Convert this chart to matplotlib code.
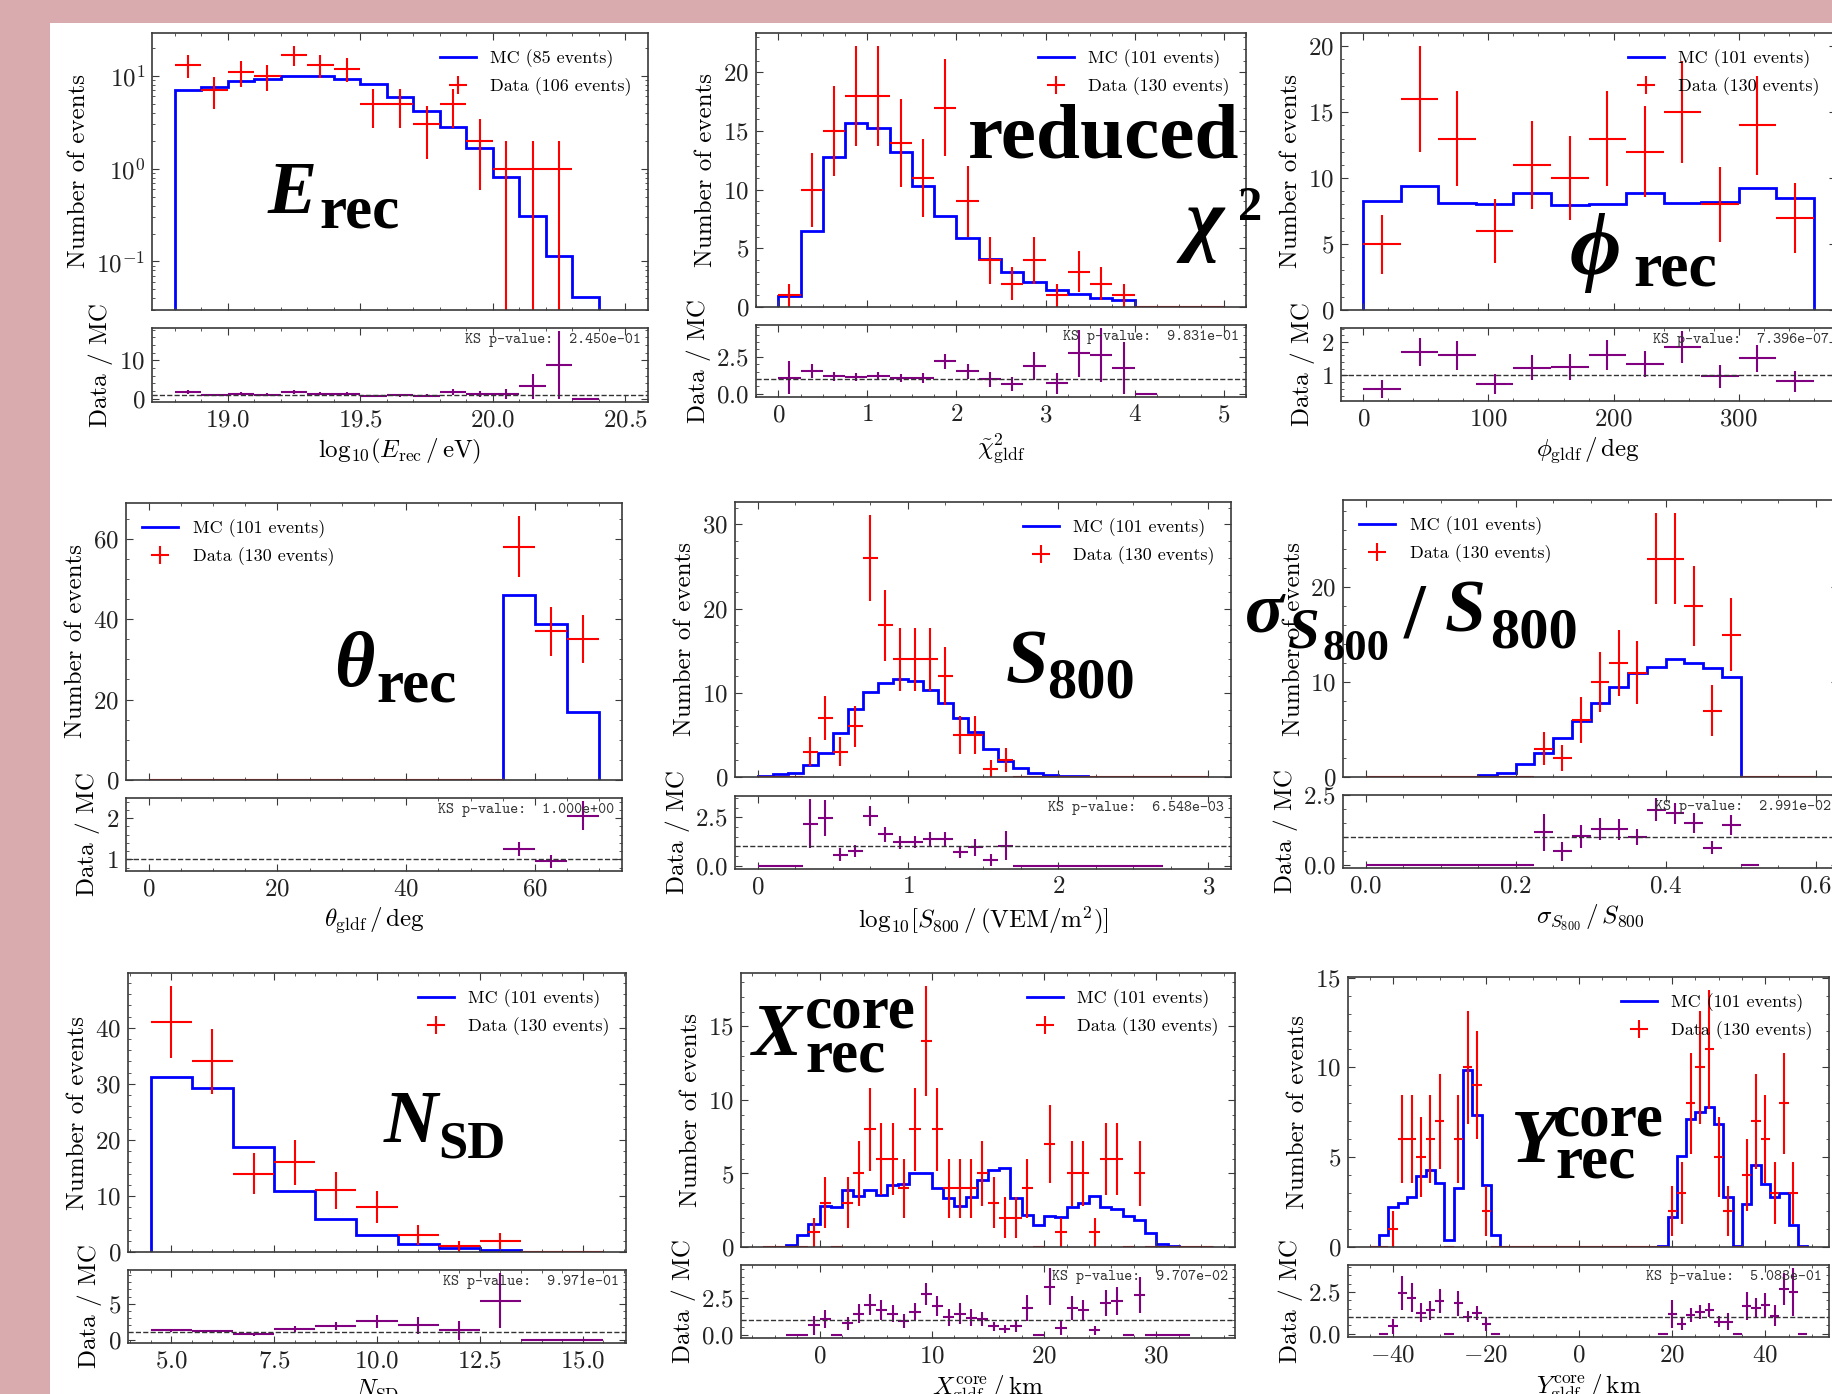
import numpy as np
import matplotlib
matplotlib.use('Agg')
import matplotlib.pyplot as plt
from matplotlib.ticker import MultipleLocator, AutoMinorLocator
from matplotlib.lines import Line2D
from matplotlib.patches import Rectangle

plt.rcParams.update({
    'font.family': 'cmr10',
    'mathtext.fontset': 'cm',
    'axes.formatter.use_mathtext': True,
    'font.size': 18,
    'axes.labelsize': 18,
    'xtick.labelsize': 18,
    'ytick.labelsize': 18,
    'xtick.direction': 'in', 'ytick.direction': 'in',
    'xtick.top': True, 'ytick.right': True,
    'xtick.minor.visible': True, 'ytick.minor.visible': True,
    'xtick.major.size': 5, 'ytick.major.size': 5,
    'xtick.minor.size': 2.5, 'ytick.minor.size': 2.5,
    'xtick.major.pad': 5, 'ytick.major.pad': 5,
    'axes.linewidth': 1.2,
    'axes.edgecolor': '#3a3a3a',
    'xtick.color': '#3a3a3a', 'ytick.color': '#3a3a3a',
    'xtick.labelcolor': '#222222', 'ytick.labelcolor': '#222222',
})

# ---- data (bin edges, MC expectation, data counts) ----
edges_E = np.arange(18.8, 20.55, 0.1)
mc_E = [7.03, 7.64, 8.87, 9.31, 9.88, 9.88, 9.31, 8.16, 5.95, 4.2, 2.82, 1.67, 0.81, 0.313, 0.114, 0.041, 0]
data_E = [13, 7, 11, 10, 17, 13, 12, 5, 5, 3, 5, 2, 1, 1, 1, 0, 0]

edges_chi = np.arange(0, 5.01, 0.25)
mc_chi = [0.91, 6.47, 12.8, 15.67, 15.24, 13.19, 10.34, 7.78, 5.9, 4.13, 2.99, 2.14, 1.44, 1.1, 0.77, 0.57, 0.02, 0, 0, 0]
data_chi = [1, 10, 15, 18, 18, 14, 11, 17, 9, 4, 2, 4, 1, 3, 2, 1, 0, 0, 0, 0]

edges_phi = np.arange(0, 361, 30)
mc_phi = [8.23, 9.37, 8.13, 8.05, 8.89, 7.97, 8.05, 8.89, 8.13, 8.18, 9.27, 8.48]
data_phi = [5, 16, 13, 6, 11, 10, 13, 12, 15, 8, 14, 7]

edges_theta = np.arange(0, 71, 5)
mc_theta = [0, 0, 0, 0, 0, 0, 0, 0, 0, 0, 0, 46.1, 38.7, 17.0]
data_theta = [0, 0, 0, 0, 0, 0, 0, 0, 0, 0, 0, 58, 37, 35]

edges_S = np.arange(0, 3.01, 0.1)
mc_S = [0.15, 0.4, 0.47, 1.38, 2.84, 5.2, 8.1, 10.15, 11.13, 11.6, 11.45, 10.34, 8.84, 7.03, 5.29,
        3.32, 1.93, 1.07, 0.47, 0.28, 0.15, 0.06, 0.05, 0.04, 0.03, 0.02, 0.02, 0, 0, 0]
data_S = [0, 0, 0, 3, 7, 3, 6, 26, 18, 14, 14, 14, 12, 5, 5, 1, 2, 0, 0, 0, 0, 0, 0, 0, 0, 0, 0, 0, 0, 0]

edges_sig = np.arange(0, 0.6001, 0.025)
mc_sig = [0.05, 0.05, 0.05, 0.05, 0.05, 0.05, 0.18, 0.46, 1.34, 2.57, 4.15, 5.88, 7.82, 9.44, 10.99,
          11.62, 12.43, 11.97, 11.51, 10.56, 0.02, 0, 0, 0]
data_sig = [0, 0, 0, 0, 0, 0, 0, 0, 0, 3, 2, 6, 10, 12, 11, 23, 23, 18, 7, 15, 0, 0, 0, 0]

edges_N = np.arange(4.5, 15.6, 1)
mc_N = [31.2, 29.2, 18.8, 10.8, 5.9, 3.1, 1.5, 0.77, 0.37, 0.05, 0.02]
data_N = [41, 34, 14, 16, 11, 8, 3, 1, 2, 0, 0]

edges_X = np.arange(-5, 35.1, 1)
mc_X = [0, 0, 0.11, 0.84, 1.54, 2.77, 2.72, 3.85, 3.45, 3.85, 3.51, 4.2, 4.31, 5.03, 5.03, 4.04, 3.36,
        2.77, 3.4, 4.58, 5.22, 5.37, 3.33, 2.2, 1.52, 2.11, 2.04, 2.72, 2.99, 3.45, 2.72, 2.56, 2.11,
        1.81, 0.98, 0.18, 0.07, 0.03, 0, 0]
data_X = [0, 0, 0, 0, 1, 3, 0, 3, 5, 8, 6, 6, 4, 8, 14, 8, 4, 4, 4, 5, 3, 2, 2, 4, 0, 7, 1, 5, 5, 1,
          6, 6, 0, 5, 0, 0, 0, 0, 0, 0]

edges_Y = np.arange(-45, 49.1, 2)
mc_Y = [0, 0.69, 2.2, 2.46, 2.79, 3.95, 4.28, 3.58, 0.37, 3.31, 9.87, 7.36, 3.45, 0.65,
        0, 0, 0, 0, 0, 0, 0, 0, 0, 0, 0, 0, 0, 0, 0, 0, 0,
        0.03, 1.68, 5.08, 7.11, 7.54, 7.82, 6.85, 2.79, 0.05, 2.42, 4.56, 3.48, 2.79, 2.98, 1.21, 0.03]
data_Y = [0, 0, 1, 6, 6, 5, 6, 7, 0, 6, 10, 9, 2, 0,
          0, 0, 0, 0, 0, 0, 0, 0, 0, 0, 0, 0, 0, 0, 0, 0, 0,
          0, 2, 3, 8, 10, 11, 5, 2, 0, 4, 7, 6, 3, 8, 3, 0]

mc_events = [85, 101, 101, 101, 101, 101, 101, 101, 101]
data_events = [106, 130, 130, 130, 130, 130, 130, 130, 130]
ks_values = ['2.450e-01', '9.831e-01', '7.396e-07', '1.000e+00', '6.548e-03',
             '2.991e-02', '9.971e-01', '9.707e-02', '5.083e-01']
xlabels = [r'$\mathrm{log}_{10}(E_{\rm rec}\,/\,{\rm eV})$', r'$\tilde{\chi}^2_{\rm gldf}$',
           r'$\phi_{\rm gldf}\,/\,{\rm deg}$', r'$\theta_{\rm gldf}\,/\,{\rm deg}$',
           r'$\mathrm{log}_{10}[S_{800}\,/\,({\rm VEM/m^2})]$', r'$\sigma_{S_{800}}\,/\,S_{800}$',
           r'$N_{\rm SD}$', r'$X^{\rm core}_{\rm gldf}\,/\,{\rm km}$',
           r'$Y^{\rm core}_{\rm gldf}\,/\,{\rm km}$']

W, H = 1833, 1394
fig = plt.figure(figsize=(W / 100, H / 100), dpi=100, facecolor='#d9abae')
fig.patches.append(Rectangle((50 / W, 0), 1, 1 - 23 / H, transform=fig.transFigure,
                             facecolor='white', edgecolor='none', zorder=-10))


def box(l, r, t, b):
    return [l / W, 1 - b / H, (r - l) / W, (b - t) / H]


def panel(i, main_px, ratio_px, edges, mc, data, loc, xmaj, xminor, ymaj, rmaj, logy=False):
    ax = fig.add_axes(box(*main_px))
    rax = fig.add_axes(box(*ratio_px), sharex=ax)
    edges = np.asarray(edges, float)
    mc = np.asarray(mc, float)
    data = np.asarray(data, float)
    centers = 0.5 * (edges[1:] + edges[:-1])
    half = 0.5 * np.diff(edges)
    if logy:
        ax.set_yscale('log')
    ax.stairs(mc, edges, color='blue', lw=2, baseline=0)
    eb = ax.errorbar(centers, data, xerr=half, yerr=np.sqrt(data), fmt='none',
                     ecolor='red', elinewidth=1.5)
    if logy:
        ax.set_ylim(0.03, 29)
    else:
        ax.set_ylim(bottom=0)
        ax.yaxis.set_major_locator(MultipleLocator(ymaj))
        ax.yaxis.set_minor_locator(AutoMinorLocator())
    ax.legend([Line2D([], [], color='blue', lw=2), eb],
              ['MC (%d events)' % mc_events[i], 'Data (%d events)' % data_events[i]],
              loc=loc, frameon=False, fontsize=13)
    ax.set_ylabel('Number of events')
    ax.tick_params(labelbottom=False)

    with np.errstate(divide='ignore', invalid='ignore'):
        r = np.where(mc > 0, data / mc, np.nan)
        re = np.where(mc > 0, np.sqrt(data) / mc, np.nan)
    rax.errorbar(centers, r, xerr=half, yerr=re, fmt='none', ecolor='purple', elinewidth=1.5)
    rax.axhline(1, ls='--', color='#333333', lw=1)
    rax.yaxis.set_major_locator(MultipleLocator(rmaj))
    rax.yaxis.set_minor_locator(AutoMinorLocator())
    ax.xaxis.set_major_locator(MultipleLocator(xmaj))
    ax.xaxis.set_minor_locator(AutoMinorLocator(xminor))
    rax.set_ylabel('Data / MC')
    rax.set_xlabel(xlabels[i])
    rax.text(0.985, 0.93, 'KS p-value:  ' + ks_values[i], transform=rax.transAxes,
             ha='right', va='top', fontsize=11, family='cmtt10', color='#333333')
    return ax, rax


panel(0, (152, 648, 33, 310), (152, 648, 328, 402), edges_E, mc_E, data_E, 'upper right', 0.5, 5, None, 10, logy=True)
panel(1, (756, 1246, 33, 307), (756, 1246, 325, 397), edges_chi, mc_chi, data_chi, 'upper right', 1, 4, 5, 2.5)
panel(2, (1341, 1836, 33, 310), (1341, 1836, 328, 401), edges_phi, mc_phi, data_phi, 'upper right', 100, 5, 5, 1)
panel(3, (126, 622, 503, 780), (126, 622, 798, 871), edges_theta, mc_theta, data_theta, 'upper left', 20, 4, 20, 1)
panel(4, (735, 1231, 502, 777), (735, 1231, 796, 869), edges_S, mc_S, data_S, 'upper right', 1, 4, 10, 2.5)
panel(5, (1343, 1838, 500, 777), (1343, 1838, 795, 868), edges_sig, mc_sig, data_sig, 'upper left', 0.2, 4, 10, 2.5)
panel(6, (128, 626, 973, 1252), (128, 626, 1270, 1343), edges_N, mc_N, data_N, 'upper right', 2.5, 5, 10, 5)
panel(7, (741, 1235, 973, 1247), (741, 1235, 1265, 1338), edges_X, mc_X, data_X, 'upper right', 10, 5, 5, 2.5)
panel(8, (1348, 1829, 977, 1247), (1348, 1829, 1265, 1337), edges_Y, mc_Y, data_Y, 'upper right', 20, 4, 5, 2.5)


def big(s, x, y, size, italic=False):
    fig.text(x / W, 1 - y / H, s, fontsize=size, family=['Liberation Serif', 'DejaVu Serif'],
             weight='bold', style='italic' if italic else 'normal', va='baseline', ha='left',
             color='black')


big('E', 268, 213, 53, True)
big('rec', 319, 228, 44)
big('reduced', 968, 157, 57)
big('χ', 1185, 245, 59, True)
big('2', 1238, 220, 35)
big('ϕ', 1570, 274, 64, True)
big('rec', 1633, 285, 46)
big('θ', 334, 686, 56, True)
big('rec', 376, 701, 44)
big('S', 1006, 682, 55, True)
big('800', 1047, 697, 42)
big('σ', 1245, 632, 52, True)
big('S', 1288, 648, 41, True)
big('800', 1322, 660, 32)
big('/', 1404, 636, 56)
big('S', 1445, 632, 53, True)
big('800', 1490, 647, 42)
big('N', 384, 1142, 54, True)
big('SD', 438, 1158, 38)
big('X', 752, 1055, 54, True)
big('core', 805, 1028, 44)
big('rec', 805, 1071, 44)
big('Y', 1510, 1162, 55, True)
big('core', 1553, 1135, 44)
big('rec', 1555, 1177, 44)

fig.savefig('out.png', dpi=100, facecolor=fig.get_facecolor())
